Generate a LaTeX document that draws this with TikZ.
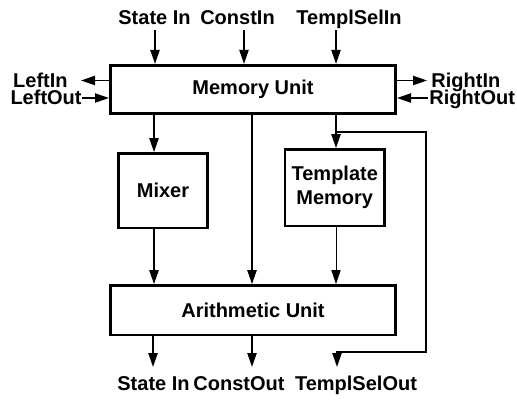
\documentclass[tikz,border=0pt]{standalone}
\usepackage{fontspec}
\setmainfont{Liberation Sans}
\usetikzlibrary{arrows.meta,positioning}
\tikzset{
  unit/.style={rectangle, draw, line width=1.4pt, fill=white,
               align=center, font=\bfseries},
  sig/.style={-{Triangle[length=7pt,width=4.6pt]}, line width=0.85pt},
  thinsig/.style={sig, line width=0.5pt},
  port/.style={font=\bfseries, inner sep=0pt}
}

\begin{document}
\begin{tikzpicture}[x=0.5pt, y=-0.5pt, font=\fontsize{9.5}{12.5}\selectfont\bfseries]
  \useasboundingbox (0,0) rectangle (517,401);
  % units
  \node[unit, minimum width=142.6pt, minimum height=24.2pt] (mem) at (253,89.5) {Memory Unit};
  \node[unit, minimum width=44.6pt, minimum height=37.2pt,
        below right=18.5pt and 4pt of mem.south west] (mix) {Mixer};
  \node[unit, minimum width=46.7pt, minimum height=38.2pt,
        below left=16.5pt and 5.5pt of mem.south east] (tmem) {Template\\Memory};
  \node[unit, minimum width=142.6pt, minimum height=24.7pt,
        below=84.5pt of mem] (alu) {Arithmetic Unit};
  % top inputs
  \node[port, anchor=base] (stateIn) at (154.5,25) {State In};
  \node[port, anchor=base] (constIn) at (237.5,25) {ConstIn};
  \node[port, anchor=base] (tselIn) at (349,25) {TemplSelIn};
  \coordinate (siA) at (155,30);
  \coordinate (ciA) at (244,30);
  \coordinate (tsA) at (336,30);
  \draw[sig] (siA) -- (siA |- mem.north);
  \draw[sig] (ciA) -- (ciA |- mem.north);
  \draw[sig] (tsA) -- (tsA |- mem.north);
  % left / right ports
  \coordinate (liE) at (81,80.5);
  \coordinate (loS) at (82,98);
  \coordinate (riE) at (427,80.5);
  \coordinate (roS) at (428,98);
  \draw[sig] (liE -| mem.west) -- (liE);
  \draw[sig] (loS) -- (loS -| mem.west);
  \draw[sig] (riE -| mem.east) -- (riE);
  \draw[sig] (roS) -- (roS -| mem.east);
  \node[port, anchor=base east] (leftIn) at (68,87) {LeftIn};
  \node[port, anchor=base east] (leftOut) at (82,104.5) {LeftOut};
  \node[port, anchor=base west] (rightIn) at (431,87) {RightIn};
  \node[port, anchor=base west] (rightOut) at (429,104.5) {RightOut};
  % internal paths
  \coordinate (colA) at (154,200);
  \coordinate (colB) at (252,200);
  \coordinate (colC) at (336,132);
  \draw[sig] (colA |- mem.south) -- (colA |- mix.north);
  \draw[sig] (colA |- mix.south) -- (colA |- alu.north);
  \draw[sig] (colB |- mem.south) -- (colB |- alu.north);
  \draw[sig] (colC |- mem.south) -- (colC |- tmem.north);
  \draw[thinsig] (colC |- tmem.south) -- (colC |- alu.north);
  \coordinate (fbR) at (426,352);
  \coordinate (tsoE) at (337,367);
  \draw[sig] (colC) -| (fbR) -| (tsoE);
  % bottom outputs
  \coordinate (soE) at (153,367);
  \coordinate (coE) at (252,367);
  \draw[sig] (soE |- alu.south) -- (soE);
  \draw[sig] (coE |- alu.south) -- (coE);
  \node[port, anchor=base] (stateOut) at (153.5,390) {State In};
  \node[port, anchor=base] (constOut) at (239,390) {ConstOut};
  \node[port, anchor=base] (tselOut) at (356,390) {TemplSelOut};
\end{tikzpicture}
\end{document}
